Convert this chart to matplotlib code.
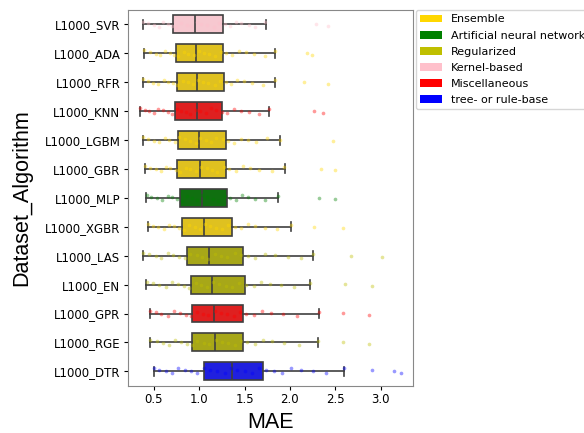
import matplotlib
matplotlib.use("Agg")
import matplotlib.pyplot as plt
import matplotlib.colors as mcolors
import colorsys
import numpy as np
from matplotlib.patches import Patch

# rows, top to bottom
labels = ["L1000_SVR", "L1000_ADA", "L1000_RFR", "L1000_KNN", "L1000_LGBM",
          "L1000_GBR", "L1000_MLP", "L1000_XGBR", "L1000_LAS", "L1000_EN",
          "L1000_GPR", "L1000_RGE", "L1000_DTR"]
groups = ["Kernel-based", "Ensemble", "Ensemble", "Miscellaneous", "Ensemble",
          "Ensemble", "Artificial neural network", "Ensemble", "Regularized",
          "Regularized", "Miscellaneous", "Regularized", "tree- or rule-base"]

# box statistics (MAE)
whislo = [0.375, 0.39, 0.38, 0.35, 0.375, 0.40, 0.415, 0.437, 0.38, 0.415, 0.46, 0.46, 0.503]
q1 = [0.71, 0.74, 0.757, 0.735, 0.77, 0.76, 0.79, 0.81, 0.864, 0.905, 0.922, 0.92, 1.05]
med = [0.95, 0.96, 0.97, 0.974, 0.996, 1.007, 1.026, 1.048, 1.103, 1.143, 1.16, 1.17, 1.357]
q3 = [1.264, 1.26, 1.27, 1.246, 1.297, 1.297, 1.31, 1.363, 1.478, 1.507, 1.485, 1.485, 1.705]
whishi = [1.735, 1.84, 1.84, 1.77, 1.89, 1.944, 1.87, 2.014, 2.25, 2.22, 2.32, 2.31, 2.60]

# individual points (estimated), including the far points past the whiskers
points = [
    [0.38, 0.43, 0.5, 0.56, 0.6, 0.66, 0.7, 0.74, 0.8, 0.86, 0.91, 0.97, 1.02, 1.08, 1.16, 1.22, 1.28, 1.34, 1.41, 1.46, 1.55, 1.62, 1.73, 2.29, 2.42],
    [0.39, 0.46, 0.52, 0.57, 0.62, 0.68, 0.72, 0.77, 0.83, 0.88, 0.94, 1.0, 1.05, 1.11, 1.17, 1.24, 1.3, 1.36, 1.44, 1.52, 1.6, 1.72, 1.84, 2.19, 2.24],
    [0.38, 0.44, 0.49, 0.55, 0.61, 0.66, 0.71, 0.76, 0.82, 0.88, 0.93, 0.99, 1.04, 1.1, 1.17, 1.23, 1.29, 1.35, 1.42, 1.49, 1.58, 1.7, 1.84, 2.15, 2.42],
    [0.35, 0.4, 0.45, 0.5, 0.55, 0.6, 0.65, 0.7, 0.75, 0.8, 0.85, 0.9, 0.96, 1.01, 1.07, 1.13, 1.19, 1.25, 1.31, 1.38, 1.46, 1.55, 1.66, 1.77, 2.26, 2.36],
    [0.38, 0.44, 0.5, 0.56, 0.62, 0.67, 0.73, 0.78, 0.84, 0.9, 0.96, 1.01, 1.07, 1.13, 1.19, 1.26, 1.32, 1.38, 1.46, 1.54, 1.63, 1.75, 1.89, 2.48],
    [0.4, 0.46, 0.52, 0.58, 0.63, 0.68, 0.74, 0.79, 0.85, 0.9, 0.96, 1.02, 1.08, 1.14, 1.2, 1.27, 1.33, 1.4, 1.48, 1.56, 1.66, 1.8, 1.94, 2.34, 2.5],
    [0.42, 0.47, 0.53, 0.59, 0.65, 0.7, 0.76, 0.81, 0.86, 0.92, 0.98, 1.03, 1.09, 1.15, 1.21, 1.28, 1.34, 1.4, 1.47, 1.54, 1.62, 1.73, 1.87, 2.32, 2.5],
    [0.44, 0.49, 0.55, 0.61, 0.67, 0.72, 0.78, 0.83, 0.89, 0.95, 1.01, 1.06, 1.12, 1.18, 1.25, 1.32, 1.39, 1.46, 1.54, 1.62, 1.72, 1.86, 2.01, 2.26, 2.59],
    [0.38, 0.45, 0.52, 0.58, 0.65, 0.71, 0.78, 0.84, 0.9, 0.97, 1.03, 1.1, 1.17, 1.24, 1.31, 1.39, 1.46, 1.54, 1.62, 1.72, 1.84, 1.98, 2.12, 2.25, 2.67, 3.01],
    [0.42, 0.49, 0.56, 0.63, 0.7, 0.77, 0.83, 0.89, 0.96, 1.02, 1.08, 1.15, 1.22, 1.29, 1.36, 1.44, 1.52, 1.6, 1.68, 1.78, 1.9, 2.04, 2.22, 2.61, 2.9],
    [0.46, 0.52, 0.58, 0.65, 0.72, 0.79, 0.85, 0.91, 0.97, 1.04, 1.1, 1.17, 1.24, 1.31, 1.38, 1.45, 1.52, 1.6, 1.69, 1.79, 1.92, 2.08, 2.32, 2.59, 2.87],
    [0.46, 0.53, 0.6, 0.67, 0.73, 0.8, 0.86, 0.92, 0.98, 1.05, 1.11, 1.18, 1.25, 1.32, 1.39, 1.46, 1.53, 1.61, 1.7, 1.8, 1.93, 2.1, 2.31, 2.59, 2.87],
    [0.5, 0.56, 0.63, 0.7, 0.77, 0.84, 0.91, 0.98, 1.05, 1.12, 1.2, 1.28, 1.35, 1.42, 1.5, 1.58, 1.66, 1.74, 1.82, 1.91, 2.01, 2.12, 2.25, 2.4, 2.6, 2.9, 3.15, 3.22],
]

legend_names = ["Ensemble", "Artificial neural network", "Regularized",
                "Kernel-based", "Miscellaneous", "tree- or rule-base"]
legend_colors = ["gold", "green", "y", "pink", "red", "blue"]
palette = dict(zip(legend_names, legend_colors))


def desat(c, s=0.75):
    r, g, b = mcolors.to_rgb(c)
    h, l, sat = colorsys.rgb_to_hls(r, g, b)
    return colorsys.hls_to_rgb(h, l, sat * s)


fig = plt.figure(figsize=(5.84, 4.33), dpi=100)
ax = fig.add_axes([0.219, 0.109, 0.488, 0.868])

stats = []
for i in range(len(labels)):
    stats.append(dict(whislo=whislo[i], q1=q1[i], med=med[i], q3=q3[i],
                      whishi=whishi[i], fliers=[]))

pos = np.arange(len(labels))
line_c = "#3f3f3f"
bp = ax.bxp(stats, positions=pos, vert=False, widths=0.62, patch_artist=True,
            showfliers=False,
            boxprops=dict(edgecolor=line_c, linewidth=1.2),
            medianprops=dict(color=line_c, linewidth=1.2),
            whiskerprops=dict(color=line_c, linewidth=1.2),
            capprops=dict(color=line_c, linewidth=1.2))
for box, g in zip(bp["boxes"], groups):
    box.set_facecolor(desat(palette[g]))

# strip points with a fixed small vertical spread
for i, vals in enumerate(points):
    n = len(vals)
    offs = np.linspace(-0.1, 0.1, n)[(np.arange(n) * 7) % n]
    ax.scatter(vals, pos[i] + offs, s=7, color=palette[groups[i]],
               alpha=0.4, linewidths=0, zorder=3)

ax.set_ylim(len(labels) - 0.5, -0.5)
ax.set_xlim(0.213, 3.356)
ax.set_yticks(pos)
ax.set_yticklabels(labels, fontsize=8.5)
ax.set_xticks([0.5, 1.0, 1.5, 2.0, 2.5, 3.0])
ax.tick_params(axis="x", labelsize=8.5, length=3, pad=2.5)
ax.tick_params(axis="y", length=3, pad=2.5)
for sp in ax.spines.values():
    sp.set_color("#888888")

ax.set_xlabel("MAE", fontsize=15.5, family="Liberation Sans", labelpad=4)
ax.set_ylabel("Dataset_Algorithm", fontsize=15.5, family="Liberation Sans", labelpad=9)

handles = [Patch(facecolor=c, label=n) for n, c in zip(legend_names, legend_colors)]
ax.legend(handles=handles, loc="upper left", bbox_to_anchor=(1.01, 1.0),
          borderaxespad=0, fontsize=8, labelspacing=0.55)

fig.savefig("out.png", dpi=100)
